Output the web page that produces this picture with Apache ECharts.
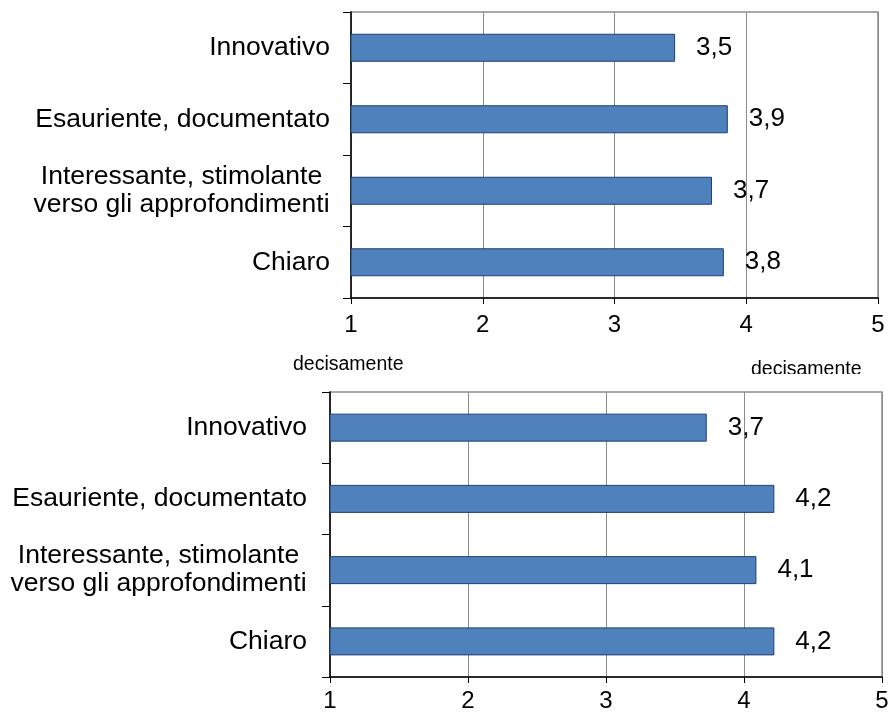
<!DOCTYPE html>
<html>
<head>
<meta charset="utf-8">
<script src="https://cdn.jsdelivr.net/npm/echarts@6/dist/echarts.min.js"></script>
<style>
  html, body { margin: 0; padding: 0; background: #fff; }
  #chart { width: 894px; height: 714px; }
</style>
</head>
<body>
<div id="chart"></div>
<script>
// categories, top to bottom
var categories = [
    'Innovativo',
    'Esauriente, documentato',
    'Interessante, stimolante\nverso gli approfondimenti',
    'Chiaro'
]
var valuesTop = [3.46, 3.86, 3.74, 3.83]
var valuesBottom = [3.73, 4.22, 4.09, 4.22]
var scaleMin = 1
var scaleMax = 5
var scaleStep = 1
var noteTexts = ['decisamente', 'decisamente']

var font = 'Liberation Sans, Arial, sans-serif'
var barColor = '#4f81bd'
var barBorder = '#1f3f73'
var gridGray = '#8c8c8c'

function fmt(p) {
    return p.value.toFixed(1).replace('.', ',')
}

// multi-line labels: lines centred on each other, block right-aligned
function catFmt(v) {
    if (v.indexOf('\n') < 0) return v
    return v.split('\n').map(function (s) { return '{c|' + s + '}' }).join('\n')
}

function xAxisFor(idx, margin) {
    return {
        type: 'value',
        gridIndex: idx,
        min: scaleMin,
        max: scaleMax,
        interval: scaleStep,
        axisLine: { show: true, lineStyle: { color: '#000', width: 1.5 } },
        axisTick: { show: true, length: 6, lineStyle: { color: '#000' } },
        axisLabel: { color: '#000', fontSize: 24, fontFamily: font, margin: margin },
        splitLine: { show: true, lineStyle: { color: gridGray, width: 1 } }
    }
}

function yAxisFor(idx, margin) {
    return {
        type: 'category',
        gridIndex: idx,
        data: categories,
        inverse: true,
        axisLine: { show: true, lineStyle: { color: '#000', width: 1.5 } },
        axisTick: { show: true, length: 8, lineStyle: { color: '#000' } },
        axisLabel: {
            color: '#000', fontSize: 26.5, fontFamily: font,
            margin: margin, lineHeight: 28, align: 'right',
            formatter: catFmt,
            rich: {
                c: {
                    color: '#000', fontSize: 26.5, fontFamily: font,
                    lineHeight: 28, width: 297, align: 'center'
                }
            }
        },
        splitLine: { show: false }
    }
}

function barSeries(idx, data) {
    return {
        type: 'bar',
        xAxisIndex: idx,
        yAxisIndex: idx,
        data: data,
        barWidth: 28,
        itemStyle: { color: barColor, borderColor: barBorder, borderWidth: 1 },
        label: {
            show: true,
            position: 'right',
            distance: 21,
            color: '#000',
            fontSize: 26,
            fontFamily: font,
            formatter: fmt
        },
        silent: true
    }
}

var option = {
    animation: false,
    backgroundColor: '#fff',
    grid: [
        { left: 351, top: 12, right: 16, bottom: 416, show: true, borderColor: gridGray, borderWidth: 1.5 },
        { left: 330, top: 392, right: 12, bottom: 37, show: true, borderColor: gridGray, borderWidth: 1.5 }
    ],
    xAxis: [xAxisFor(0, 15), xAxisFor(1, 12)],
    yAxis: [yAxisFor(0, 21), yAxisFor(1, 23)],
    series: [barSeries(0, valuesTop), barSeries(1, valuesBottom)],
    graphic: [
        {
            type: 'text', left: 293, top: 355, z: 10,
            style: { text: noteTexts[0], fontSize: 19.5, fontFamily: font, fill: '#000' }
        },
        {
            type: 'text', left: 751, top: 360, z: 10,
            style: { text: noteTexts[1], fontSize: 19.5, fontFamily: font, fill: '#000' }
        },
        {
            type: 'rect', left: 700, top: 374, z: 11,
            shape: { width: 194, height: 14 },
            style: { fill: '#fff' }
        }
    ]
}

var chart = echarts.init(document.getElementById('chart'))
chart.setOption(option)
</script>
</body>
</html>
